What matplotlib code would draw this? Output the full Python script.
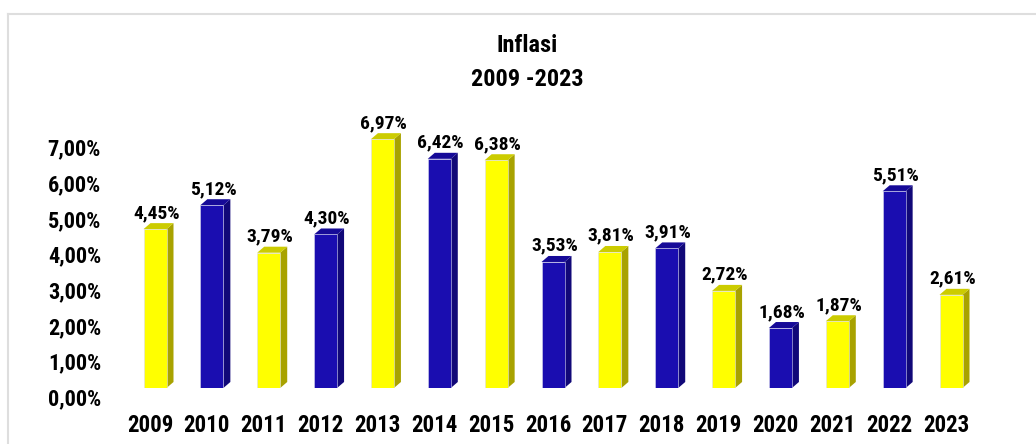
import matplotlib
matplotlib.use('Agg')
import matplotlib.pyplot as plt
import matplotlib.transforms as mtransforms
from matplotlib.patches import Polygon
from matplotlib.lines import Line2D

# DATA
years = ['2009', '2010', '2011', '2012', '2013', '2014', '2015', '2016',
         '2017', '2018', '2019', '2020', '2021', '2022', '2023']
inflasi = [4.45, 5.12, 3.79, 4.30, 6.97, 6.42, 6.38, 3.53,
           3.81, 3.91, 2.72, 1.68, 1.87, 5.51, 2.61]
labels = ['4,45%', '5,12%', '3,79%', '4,30%', '6,97%', '6,42%', '6,38%', '3,53%',
          '3,81%', '3,91%', '2,72%', '1,68%', '1,87%', '5,51%', '2,61%']
yticks = [0, 1, 2, 3, 4, 5, 6, 7]
ytick_labels = ['0,00%', '1,00%', '2,00%', '3,00%', '4,00%', '5,00%', '6,00%', '7,00%']

plt.rcParams['font.family'] = ['Liberation Sans Narrow', 'Arial Narrow', 'Roboto Condensed',
                               'Archivo Narrow', 'Barlow Semi Condensed', 'Liberation Sans',
                               'DejaVu Sans']
plt.rcParams['font.weight'] = 'bold'

# colours: front, side, top
yellow = ('#ffff00', '#a8a200', '#cccc00')
blue = ('#1a0db0', '#110878', '#160a98')

W, H = 1036, 444
fig = plt.figure(figsize=(W / 100, H / 100), dpi=100)
fig.patch.set_facecolor('white')

# plot area placed in pixels: bar 2009 centre at x=155, 2023 at 951, zero at y=388
xstep = (951 - 155) / 14.0
ystep = 35.7
x0, x1 = -0.9, 15
left = 155 + x0 * xstep
right = 155 + x1 * xstep
ax = fig.add_axes([left / W, (H - 388) / H, (right - left) / W, 8 * ystep / H])
ax.set_xlim(x0, x1)
ax.set_ylim(0, 8)
for s in ax.spines.values():
    s.set_visible(False)

bw = 23 / xstep
dx = 7 / xstep
dy = 6 / ystep

xs = list(range(len(years)))
for i, v in enumerate(inflasi):
    front, side, top = yellow if i % 2 == 0 else blue
    l, r = i - bw / 2, i + bw / 2
    ax.add_patch(Polygon([(r, 0), (r + dx, dy), (r + dx, v + dy), (r, v)],
                         closed=True, facecolor=side, edgecolor='none', zorder=2))
    ax.add_patch(Polygon([(l, v), (l + dx, v + dy), (r + dx, v + dy), (r, v)],
                         closed=True, facecolor=top, edgecolor='none', zorder=2))
    ax.bar(i, v, width=bw, color=front, edgecolor='#d8d8f0', linewidth=0.4, zorder=3)
    ax.annotate(labels[i], (i, v), xytext=(1, 8), textcoords='offset points',
                ha='center', va='baseline', fontsize=14, fontweight='bold', color='black')

ax.set_xticks(xs)
ax.set_xticklabels(years, fontsize=16.5, fontweight='bold')
ax.set_yticks(yticks)
ax.set_yticklabels(ytick_labels, fontsize=16, fontweight='bold')
ax.tick_params(axis='both', length=0)
ax.tick_params(axis='x', pad=18.5)
ax.tick_params(axis='y', pad=2)

off_x = mtransforms.ScaledTranslation(-5 / 100, 0, fig.dpi_scale_trans)
for t in ax.get_xticklabels():
    t.set_transform(t.get_transform() + off_x)
off_y = mtransforms.ScaledTranslation(0, -9 / 100, fig.dpi_scale_trans)
for t in ax.get_yticklabels():
    t.set_transform(t.get_transform() + off_y)

# title
fig.text(527 / W, 1 - 45 / H, 'Inflasi', ha='center', va='center', fontsize=17.5, fontweight='bold')
fig.text(527 / W, 1 - 79 / H, '2009 -2023', ha='center', va='center', fontsize=17.5, fontweight='bold')

# light frame around chart (cut off on right and bottom)
fig.add_artist(Line2D([8 / W, 1.01], [1 - 14 / H, 1 - 14 / H], transform=fig.transFigure,
                      color='#dedede', linewidth=1.5))
fig.add_artist(Line2D([8 / W, 8 / W], [-0.01, 1 - 14 / H], transform=fig.transFigure,
                      color='#dedede', linewidth=1.5))

fig.savefig('out.png', dpi=100)
